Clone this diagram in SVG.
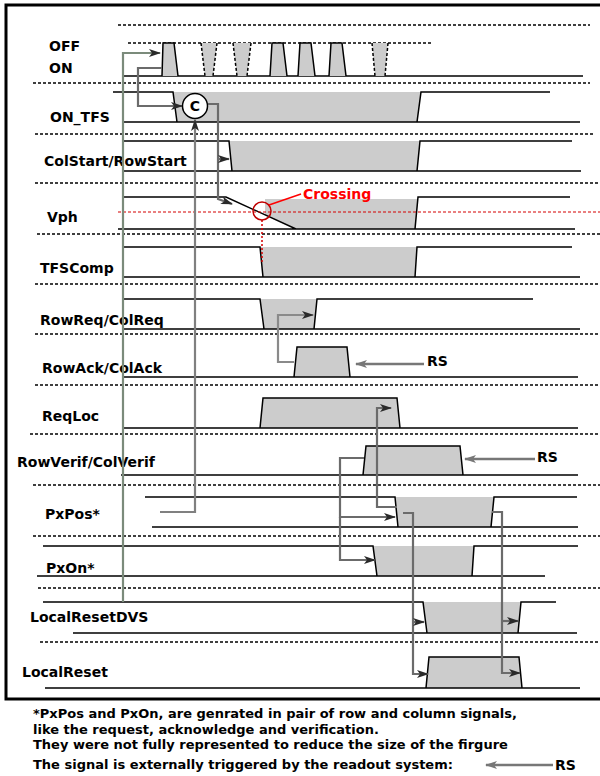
<svg xmlns="http://www.w3.org/2000/svg" width="600" height="776" viewBox="0 0 600 776">
<style>
.sig{fill:none;stroke:#000;stroke-width:1.5}
.dash{fill:none;stroke:#000;stroke-width:1.5;stroke-dasharray:3,2}
.gf{fill:#cccccc;stroke:none}
.lbl{font-family:"DejaVu Sans",sans-serif;font-weight:bold;font-size:14px;fill:#000}
.note{font-family:"DejaVu Sans",sans-serif;font-weight:bold;font-size:13px;fill:#000}
.con{fill:none;stroke:#6b6b6b;stroke-width:2.2;marker-end:url(#ah)}
.rs{fill:none;stroke:#777;stroke-width:2.5;marker-end:url(#ahg)}
</style>
<defs>
<marker id="ah" viewBox="0 0 12 8" refX="11" refY="4" markerWidth="12" markerHeight="8" markerUnits="userSpaceOnUse" orient="auto"><path d="M0,0 L12,4 L0,8 L3,4 Z" fill="#2a2a2a"/></marker>
<marker id="ahg" viewBox="0 0 12 8" refX="11" refY="4" markerWidth="12" markerHeight="8" markerUnits="userSpaceOnUse" orient="auto"><path d="M0,0 L12,4 L0,8 L3,4 Z" fill="#777"/></marker>
</defs>
<rect x="0" y="0" width="600" height="776" fill="#fff"/>
<rect x="6" y="5" width="600" height="694" fill="none" stroke="#000" stroke-width="3"/>

<g id="separators">
<path class="dash" d="M118,25H590 M33,83H590 M35,134H594 M35,183H600 M37,234H600 M35,284H600 M35,334H600 M35,385H600 M30,434H600 M33,485H600 M33,536H600 M38,588H600 M40,642H600"/>
</g>

<g id="sig-offon">
<text class="lbl" x="49" y="51">OFF</text>
<text class="lbl" x="49" y="73">ON</text>
<path class="dash" d="M128,43H432"/>
<path class="sig" d="M123,76H583"/>
<polygon class="gf" points="162,76 163,43 174,43 178,76"/>
<polygon class="gf" points="270,76 272,43 283,43 287,76"/>
<polygon class="gf" points="298,76 300,43 311,43 315,76"/>
<polygon class="gf" points="329,76 331,43 342,43 346,76"/>
<polygon class="gf" points="201,43 217,43 213,76 205,76"/>
<polygon class="gf" points="233,43 251,43 247,76 237,76"/>
<polygon class="gf" points="372,43 388,43 385,76 375,76"/>
<path class="sig" d="M162,76L163,43H174L178,76 M270,76L272,43H283L287,76 M298,76L300,43H311L315,76 M329,76L331,43H342L346,76"/>
<path class="dash" d="M201,43L205,76 M217,43L213,76 M233,43L237,76 M251,43L247,76 M372,43L375,76 M388,43L385,76"/>
</g>

<g id="sig-ontfs">
<text class="lbl" x="50" y="122">ON_TFS</text>
<polygon class="gf" points="173,92 421,92 417,122 177,122"/>
<path class="sig" d="M113,92H173L177,122 M417,122L421,92H550 M123,122H580"/>
</g>

<g id="sig-colstart">
<text class="lbl" x="44" y="166">ColStart/RowStart</text>
<polygon class="gf" points="229,141 420,141 417,171 232,171"/>
<path class="sig" d="M123,141H229L232,171 M417,171L420,141H572 M123,171H581"/>
</g>

<g id="sig-vph">
<text class="lbl" x="47" y="222">Vph</text>
<polygon class="gf" points="265,199 418,199 415,229 296,229 265,215"/>
<path class="sig" d="M123,197H226L296,229 M415,229L418,197H570 M118,229H575"/>
</g>

<g id="sig-tfscomp">
<text class="lbl" x="40" y="273">TFSComp</text>
<polygon class="gf" points="260,247 417,247 415,277 263,277"/>
<path class="sig" d="M122,247H260L263,277 M415,277L417,247H572 M123,277H580"/>
</g>

<g id="sig-rowreq">
<text class="lbl" x="40" y="325">RowReq/ColReq</text>
<polygon class="gf" points="260,299 317,299 314,329 264,329"/>
<path class="sig" d="M123,299H260L264,329 M314,329L317,299H533 M123,329H580"/>
</g>

<g id="sig-rowack">
<text class="lbl" x="42" y="373">RowAck/ColAck</text>
<polygon class="gf" points="294,377 297,347 347,347 350,377"/>
<path class="sig" d="M123,377H578 M294,377L297,347H347L350,377"/>
<path class="rs" d="M424,364H356"/>
<text class="lbl" x="427" y="366">RS</text>
</g>

<g id="sig-reqloc">
<text class="lbl" x="42" y="421">ReqLoc</text>
<polygon class="gf" points="260,428 263,398 397,398 400,428"/>
<path class="sig" d="M123,428H578 M260,428L263,398H397L400,428"/>
</g>

<g id="sig-rowverif">
<text class="lbl" x="17" y="467">RowVerif/ColVerif</text>
<polygon class="gf" points="363,475 366,446 460,446 463,475"/>
<path class="sig" d="M121,475H578 M363,475L366,446H460L463,475"/>
<path class="rs" d="M535,459H465"/>
<text class="lbl" x="537" y="462">RS</text>
</g>

<g id="sig-pxpos">
<text class="lbl" x="45" y="519">PxPos*</text>
<polygon class="gf" points="395,497 494,497 491,527 398,527"/>
<path class="sig" d="M145,497H395L398,527 M491,527L494,497H577 M152,527H578"/>
</g>

<g id="sig-pxon">
<text class="lbl" x="46" y="573">PxOn*</text>
<polygon class="gf" points="373,546 474,546 472,576 377,576"/>
<path class="sig" d="M43,546H373L377,576 M472,576L474,546H578 M37,576H545"/>
</g>

<g id="sig-localresetdvs">
<text class="lbl" x="30" y="622">LocalResetDVS</text>
<polygon class="gf" points="423,602 521,602 518,633 427,633"/>
<path class="sig" d="M43,602H423L427,633 M518,633L521,602H556 M73,633H577"/>
</g>

<g id="sig-localreset">
<text class="lbl" x="22" y="677">LocalReset</text>
<polygon class="gf" points="426,688 429,657 519,657 522,688"/>
<path class="sig" d="M45,688H580 M426,688L429,657H519L522,688"/>
</g>

<g id="crossing">
<path d="M118,212H600" fill="none" stroke="#d40000" stroke-width="1.2" stroke-dasharray="3,2"/>
<path d="M262,220V262" fill="none" stroke="#d40000" stroke-width="1.5" stroke-dasharray="2,2"/>
<circle cx="262" cy="211" r="9" fill="none" stroke="#c00000" stroke-width="1.5"/>
<path d="M269,205L301,194" fill="none" stroke="#f00" stroke-width="1.5"/>
<text class="lbl" x="303" y="199" style="fill:#f00">Crossing</text>
</g>

<g id="connectors">
<path class="con" style="stroke:#7b8b7b" d="M123,602V53H160"/>
<path class="con" d="M162,68H138V106H182"/>
<path class="con" d="M208,104H218V199L232,204"/>
<path class="con" d="M218,159H229"/>
<path class="con" style="stroke:#808080" d="M160,512H195V120"/>
<path class="con" style="stroke:#8a8a8a" d="M294,362H278V315H313"/>
<path class="con" d="M397,507H377V408H391"/>
<path class="con" d="M364,458H340V517H395"/>
<path class="con" d="M340,517V560H375"/>
<path class="con" d="M403,513H413V674H428"/>
<path class="con" d="M413,622H424"/>
<path class="con" d="M492,512H502V673H520"/>
<path class="con" d="M502,621H518"/>
</g>

<g id="node-c">
<circle cx="195" cy="106" r="12.5" fill="#fff" stroke="#000" stroke-width="1.5"/>
<text class="lbl" x="195" y="111" text-anchor="middle">C</text>
</g>

<g id="footnote">
<text class="note" x="33" y="718">*PxPos and PxOn, are genrated in pair of row and column signals,</text>
<text class="note" x="33" y="734">like the request, acknowledge and verification.</text>
<text class="note" x="33" y="749">They were not fully represented to reduce the size of the firgure</text>
<text class="note" x="33" y="769">The signal is externally triggered by the readout system:</text>
<path class="rs" d="M553,765H486"/>
<text class="lbl" x="555" y="770">RS</text>
</g>
</svg>
